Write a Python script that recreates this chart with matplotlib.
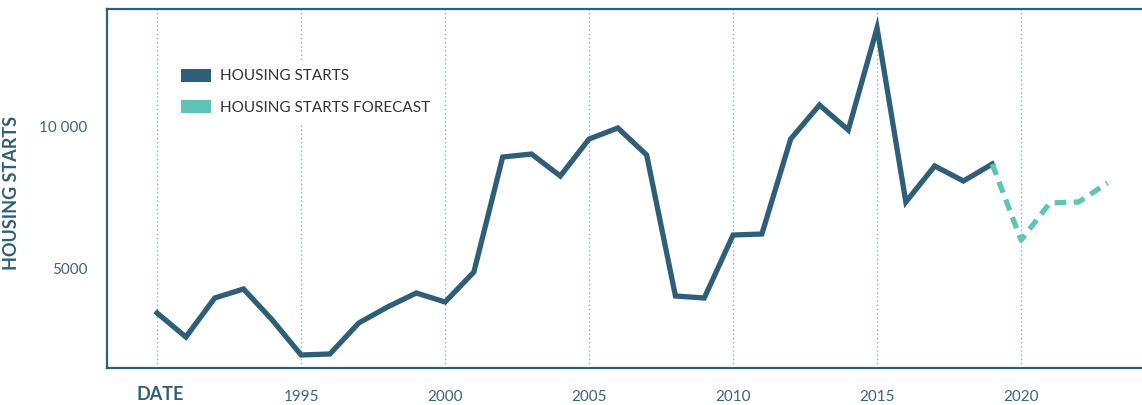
import matplotlib
matplotlib.use("Agg")
import matplotlib.pyplot as plt
from matplotlib.patches import Patch
from matplotlib.transforms import blended_transform_factory

years = list(range(1990, 2020))
starts = [3415, 2570, 3944, 4261, 3169, 1937, 1972, 3063, 3627, 4120,
          3803, 4859, 8908, 9014, 8239, 9542, 9930, 8979, 4014, 3944,
          6162, 6197, 9542, 10739, 9859, 13451, 7324, 8592, 8063, 8662]
fc_years = [2019, 2020, 2021, 2022, 2023]
fc_starts = [8662, 5986, 7289, 7324, 7993]

x_ticks = [1990, 1995, 2000, 2005, 2010, 2015, 2020]
x_labels = ["", "1995", "2000", "2005", "2010", "2015", "2020"]
y_ticks = [5000, 10000]
y_labels = ["5000", "10 000"]

DARK = "#2f5f78"
TEAL = "#5ec4b5"
TXT = "#3d6478"

plt.rcParams['font.family'] = ['Lato', 'DejaVu Sans']

fig = plt.figure(figsize=(11.42, 4.05), dpi=100)
ax = fig.add_axes([107/1142, (405-368)/405, (1142-107)/1142, (368-9)/405])

ax.plot(years, starts, color=DARK, lw=3.8, solid_joinstyle='miter', zorder=3)
ax.plot(fc_years, fc_starts, color=TEAL, lw=3.8, dashes=(2.2, 1.4),
        dash_capstyle='butt', zorder=3)

ax.set_xlim(1988.26, 2024.2)
ax.set_ylim(1479, 14120)

ax.set_xticks(x_ticks)
ax.set_xticklabels(x_labels)
ax.set_yticks(y_ticks)
ax.set_yticklabels(y_labels)
ax.tick_params(axis='both', length=0, labelcolor=TXT, labelsize=11)
ax.tick_params(axis='x', pad=16)
ax.tick_params(axis='y', pad=14)

trans = blended_transform_factory(ax.transData, fig.transFigure)
ax.text(1990.1, 1 - 394/405, "DATE", transform=trans, ha='center', va='center',
        fontsize=13, fontweight='bold', color=DARK)

ax.grid(axis='x', color="#6cc4bb", linestyle=(0, (1, 2)), lw=1.0)
ax.grid(axis='y', visible=False)
ax.set_axisbelow(True)

for s in ['left', 'top', 'bottom']:
    ax.spines[s].set_color(DARK)
    ax.spines[s].set_linewidth(1.6)
ax.spines['right'].set_visible(False)

ax.set_ylabel("HOUSING STARTS", fontsize=13, fontweight='bold', color=DARK)
ax.yaxis.set_label_coords((20 - 107) / 1035, 0.487)

handles = [Patch(facecolor=DARK, edgecolor='none'), Patch(facecolor=TEAL, edgecolor='none')]
leg = ax.legend(handles, ["HOUSING STARTS", "HOUSING STARTS FORECAST"],
                loc='upper left', bbox_to_anchor=(0.055, 0.88), frameon=True,
                framealpha=1.0, edgecolor='none', facecolor='white',
                fontsize=11, handlelength=2.0, handleheight=0.9,
                labelspacing=1.1, handletextpad=0.6, borderpad=0.6)
for t in leg.get_texts():
    t.set_color("#333333")

fig.savefig("out.png", dpi=100)
